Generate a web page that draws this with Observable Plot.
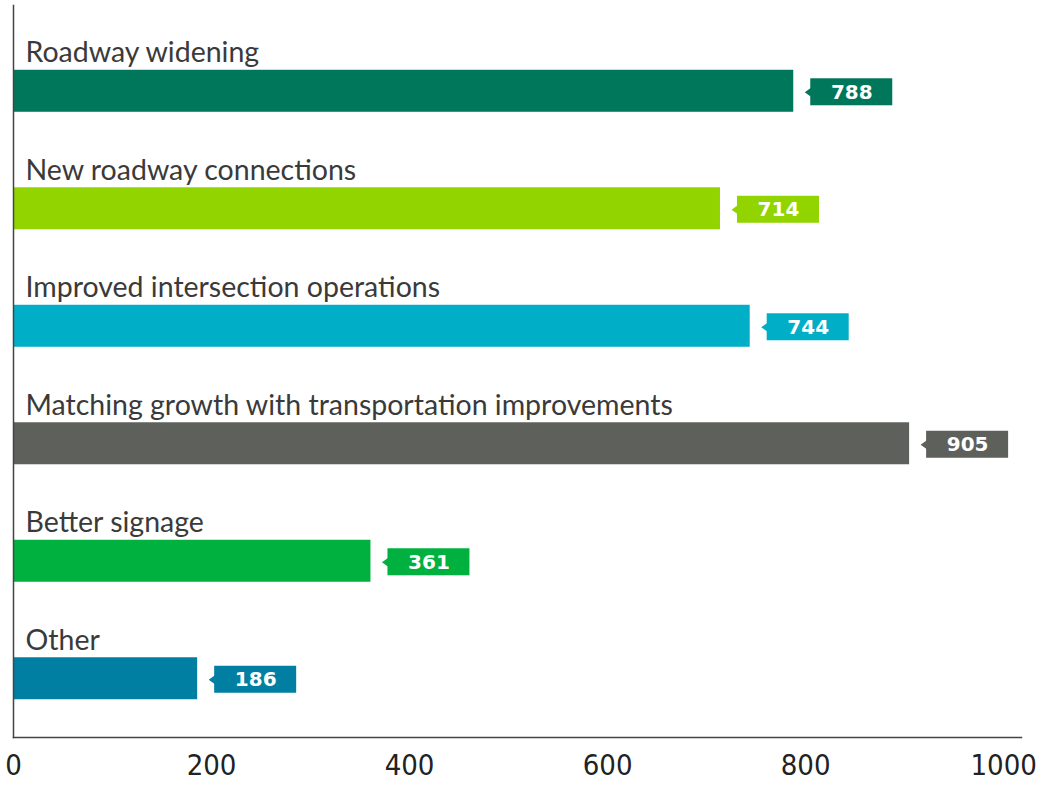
<!DOCTYPE html>
<html>
<head>
<meta charset="utf-8">
<script src="https://cdn.jsdelivr.net/npm/d3@7"></script>
<script src="https://cdn.jsdelivr.net/npm/@observablehq/plot@0.6"></script>
<style>
  body { margin: 0; background: #fff; }
</style>
</head>
<body>
<div id="chart"></div>
<script>
const categories = [
  "Roadway widening",
  "New roadway connections",
  "Improved intersection operations",
  "Matching growth with transportation improvements",
  "Better signage",
  "Other"
];
const values = [788, 714, 744, 905, 361, 186];
const colors = ["#00775A", "#92D400", "#00AEC7", "#5E605B", "#00B140", "#007FA3"];
const xTicks = [0, 200, 400, 600, 800, 1000];

const data = categories.map((c, i) => ({cat: c, value: values[i], color: colors[i]}));

const step = 117.5;
const barH = 42;
const inset = (step - barH) / 2;
const boxH = 27;
const boxTop = step / 2 - boxH / 2 + 1;

const notch = {
  draw(ctx) {
    ctx.moveTo(0, 0);
    ctx.lineTo(7, -5);
    ctx.lineTo(7, 5);
    ctx.closePath();
  }
};

const labelFont = "Lato, 'Open Sans', sans-serif";
const tickFont = "'DejaVu Sans Condensed', 'DejaVu Sans', sans-serif";

const chart = Plot.plot({
  width: 1042,
  height: 785,
  marginLeft: 13,
  marginRight: 21,
  marginTop: 5,
  marginBottom: 48,
  style: {background: "#fff", fontFamily: labelFont},
  x: {domain: [0, 1018], ticks: xTicks, label: null},
  y: {domain: categories, paddingInner: 0, paddingOuter: 0.115, align: 1, round: false, axis: null},
  color: {type: "identity"},
  marks: [
    Plot.barX(data, {x: "value", y: "cat", fill: "color", insetTop: inset, insetBottom: inset}),
    Plot.barX(data, {x1: "value", x2: "value", y: "cat", fill: "color",
      insetLeft: 17, insetRight: -99, insetTop: boxTop, insetBottom: step - boxTop - boxH}),
    Plot.dot(data, {x: "value", y: "cat", fill: "color", symbol: notch, r: 5, dx: 11, dy: 1, stroke: null}),
    Plot.text(data, {x: "value", y: "cat", text: d => String(d.value), dx: 58, dy: 1,
      fill: "#fff", fontWeight: "bold", fontSize: 20, fontFamily: "'DejaVu Sans', Verdana, sans-serif"}),
    Plot.text(data, {x: 0, y: "cat", text: "cat", textAnchor: "start", lineAnchor: "bottom",
      dx: 12, dy: -29, fill: "#3a3a3a", fontSize: 28.5, fontFamily: labelFont}),
    Plot.axisX({ticks: xTicks, tickFormat: d => String(d), tickSize: 0, tickPadding: 17, fontSize: 29, fill: "#222",
      fontFamily: tickFont, label: null}),
    Plot.frame({anchor: "left", stroke: "#444", strokeWidth: 1.5}),
    Plot.frame({anchor: "bottom", stroke: "#444", strokeWidth: 1.5})
  ]
});

document.getElementById("chart").appendChild(chart);
</script>
</body>
</html>
